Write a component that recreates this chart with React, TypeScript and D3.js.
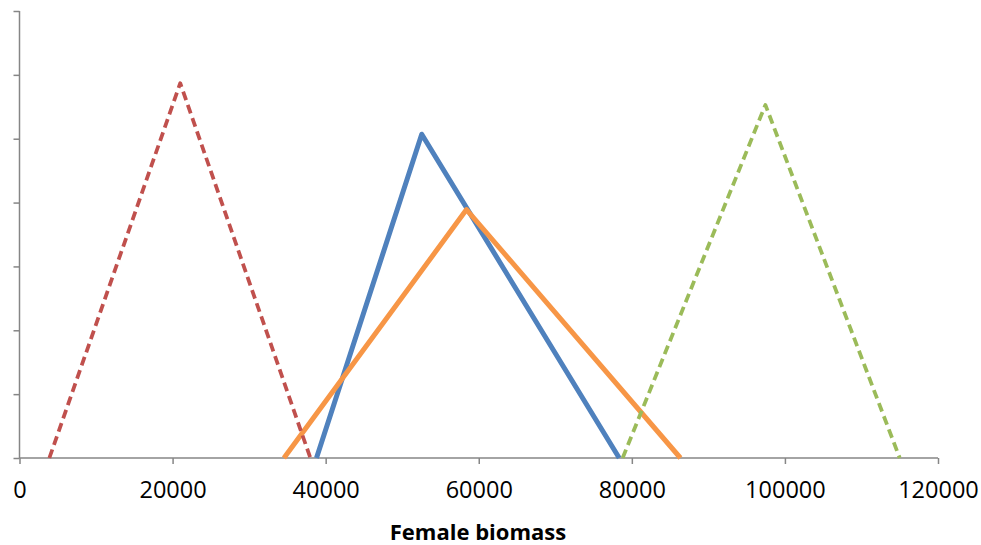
import React, { useEffect, useRef } from 'react';
import * as d3 from 'd3';

// biomass breakpoints (start, mode, end) for each triangular distribution
const redX = [3900, 21000, 38000];
const redY = [0, 5.87, 0];
const blueX = [38800, 52550, 78350];
const blueY = [0, 5.07, 0];
const orangeX = [34550, 58400, 86350];
const orangeY = [0, 3.89, 0];
const greenX = [78800, 97450, 115000];
const greenY = [0, 5.53, 0];

const xTicks = [0, 20000, 40000, 60000, 80000, 100000, 120000];
const yTicks = [0, 1, 2, 3, 4, 5, 6, 7];

const W = 981;
const H = 545;

export default function App() {
    const svgRef = useRef<SVGSVGElement | null>(null);

    useEffect(() => {
        document.body.style.margin = '0';
        if (!svgRef.current) return;
        const svg = d3.select(svgRef.current);
        svg.selectAll('*').remove();

        const x = d3.scaleLinear().domain([0, 120000]).range([19.5, 938]);
        const y = d3.scaleLinear().domain([0, 7]).range([458, 11]);
        const axisColor = '#868686';

        // y axis: line + tick marks, no labels
        const yAxis = svg.append('g')
            .attr('transform', `translate(${x(0)},0)`)
            .call(d3.axisLeft(y).tickValues(yTicks).tickSize(6).tickFormat(() => ''));
        yAxis.selectAll('path, line').attr('stroke', axisColor).attr('stroke-width', 1.5);
        yAxis.select('path').attr('d', `M0,${y(7)}V${y(0)}`);

        const xAxis = svg.append('g')
            .attr('transform', `translate(0,${y(0)})`)
            .call(d3.axisBottom(x).tickValues(xTicks).tickSize(6).tickPadding(17).tickFormat(d3.format('d')));
        xAxis.selectAll('path, line').attr('stroke', axisColor).attr('stroke-width', 1.5);
        xAxis.select('path').attr('d', `M${x(0)},0H${x(120000)}`);
        xAxis.selectAll('text')
            .attr('fill', '#000')
            .style('font-family', "'Open Sans', sans-serif")
            .style('font-size', '23.5px');

        svg.append('text')
            .attr('x', 478)
            .attr('y', 540)
            .attr('text-anchor', 'middle')
            .style('font-family', "'Open Sans', sans-serif")
            .style('font-size', '22px')
            .style('font-weight', 'bold')
            .attr('fill', '#000')
            .text('Female biomass');

        const line = d3.line<[number, number]>()
            .x(d => x(d[0]))
            .y(d => y(d[1]));

        const series = [
            { xs: blueX, ys: blueY, color: '#4F81BD', width: 5, dash: null },
            { xs: orangeX, ys: orangeY, color: '#F79646', width: 5, dash: null },
            { xs: redX, ys: redY, color: '#C0504D', width: 3.75, dash: '9,5' },
            { xs: greenX, ys: greenY, color: '#9BBB59', width: 3.75, dash: '9,5' },
        ];

        series.forEach(s => {
            const pts = s.xs.map((v, i) => [v, s.ys[i]] as [number, number]);
            svg.append('path')
                .attr('d', line(pts))
                .attr('fill', 'none')
                .attr('stroke', s.color)
                .attr('stroke-width', s.width)
                .attr('stroke-linejoin', 'round')
                .attr('stroke-dasharray', s.dash);
        });
    }, []);

    return (
        <svg ref={svgRef} width={W} height={H} style={{ display: 'block', background: '#fff' }} />
    );
}
